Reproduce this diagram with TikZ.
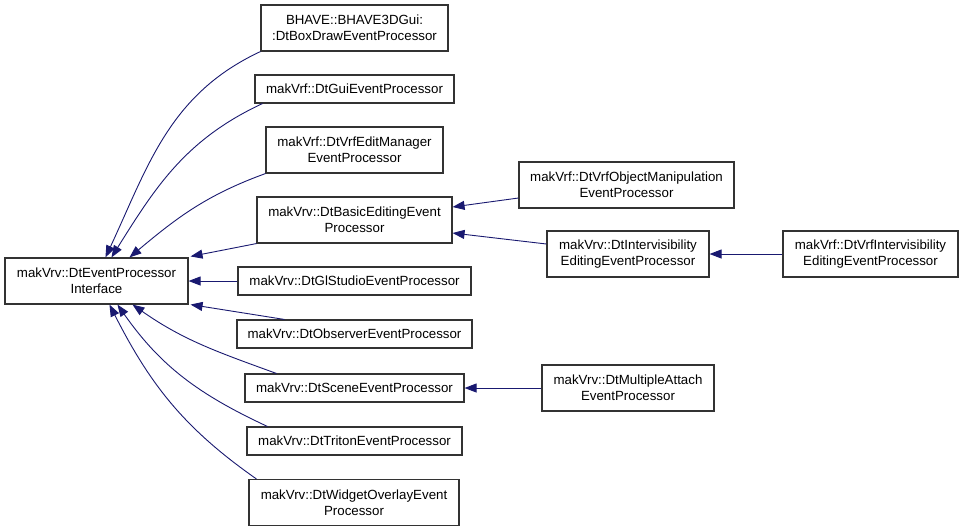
\documentclass[tikz,border=0pt]{standalone}
\usepackage{fontspec}
\setmainfont{Liberation Sans}
\usetikzlibrary{arrows.meta,calc}
\definecolor{edgeblue}{RGB}{25,25,112}
\begin{document}
\begin{tikzpicture}[x=1pt,y=-1pt,
  cls/.style={draw=black!80,line width=1.1pt,fill=white,inner sep=0pt,align=center,font=\fontsize{13.3}{16}\selectfont},
  inh/.style={draw=edgeblue,line width=0.9pt,-{Triangle[length=12pt,width=9pt]}}]
\useasboundingbox (0,0) rectangle (965,531);
\node[cls,minimum width=183pt,minimum height=46pt] (root) at (96.5,281) {makVrv::DtEventProcessor\\Interface};
\node[cls,minimum width=187pt,minimum height=46pt] (bhave) at (354.5,28) {BHAVE::BHAVE3DGui:\\:DtBoxDrawEventProcessor};
\node[cls,minimum width=199pt,minimum height=28pt] (gui) at (354.5,89) {makVrf::DtGuiEventProcessor};
\node[cls,minimum width=177pt,minimum height=46pt] (edit) at (354.5,150) {makVrf::DtVrfEditManager\\EventProcessor};
\node[cls,minimum width=195pt,minimum height=46pt] (basic) at (354.5,220) {makVrv::DtBasicEditingEvent\\Processor};
\node[cls,minimum width=233pt,minimum height=28pt] (gls) at (354.5,281) {makVrv::DtGlStudioEventProcessor};
\node[cls,minimum width=235pt,minimum height=28pt] (obs) at (354.5,334) {makVrv::DtObserverEventProcessor};
\node[cls,minimum width=219pt,minimum height=28pt] (scene) at (354.5,388) {makVrv::DtSceneEventProcessor};
\node[cls,minimum width=215pt,minimum height=28pt] (triton) at (354.5,441) {makVrv::DtTritonEventProcessor};
\node[cls,minimum width=210pt,minimum height=46pt] (widget) at (354,502.5) {makVrv::DtWidgetOverlayEvent\\Processor};
\node[cls,minimum width=215pt,minimum height=46pt] (manip) at (626.5,185) {makVrf::DtVrfObjectManipulation\\EventProcessor};
\node[cls,minimum width=162pt,minimum height=46pt] (intv) at (628,254) {makVrv::DtIntervisibility\\EditingEventProcessor};
\node[cls,minimum width=175pt,minimum height=46pt] (vrfintv) at (870.5,254) {makVrf::DtVrfIntervisibility\\EditingEventProcessor};
\node[cls,minimum width=172pt,minimum height=46pt] (multi) at (628,388) {makVrv::DtMultipleAttach\\EventProcessor};
% edges to root
\draw[inh] (bhave.south west) to[out=205,in=65] ($(root.north west)+(101,0)$);
\draw[inh] ($(gui.south west)+(8,0)$) to[out=205,in=58] ($(root.north west)+(107,0)$);
\draw[inh] (edit.south west) to[out=200,in=40] ($(root.north west)+(125,0)$);
\draw[inh] (basic.south west) -- ($(root.north east)+(2,-1)$);
\draw[inh] (gls.west) -- (root.east);
\draw[inh] ($(obs.north west)+(48,0)$) -- ($(root.south east)+(2,0)$);
\draw[inh] ($(scene.north west)+(32,0)$) to[out=160,in=-35] ($(root.south west)+(128,0)$);
\draw[inh] ($(triton.north west)+(21,0)$) to[out=155,in=-55] ($(root.south west)+(113,0)$);
\draw[inh] ($(widget.north west)+(8,0)$) to[out=145,in=-63] ($(root.south west)+(105,0)$);
% other edges
\draw[inh] ($(manip.west)+(0,13)$) -- ($(basic.east)+(0,-13)$);
\draw[inh] ($(intv.west)+(0,-10)$) -- ($(basic.east)+(0,13)$);
\draw[inh] (vrfintv.west) -- (intv.east);
\draw[inh] (multi.west) -- (scene.east);
\end{tikzpicture}
\end{document}
